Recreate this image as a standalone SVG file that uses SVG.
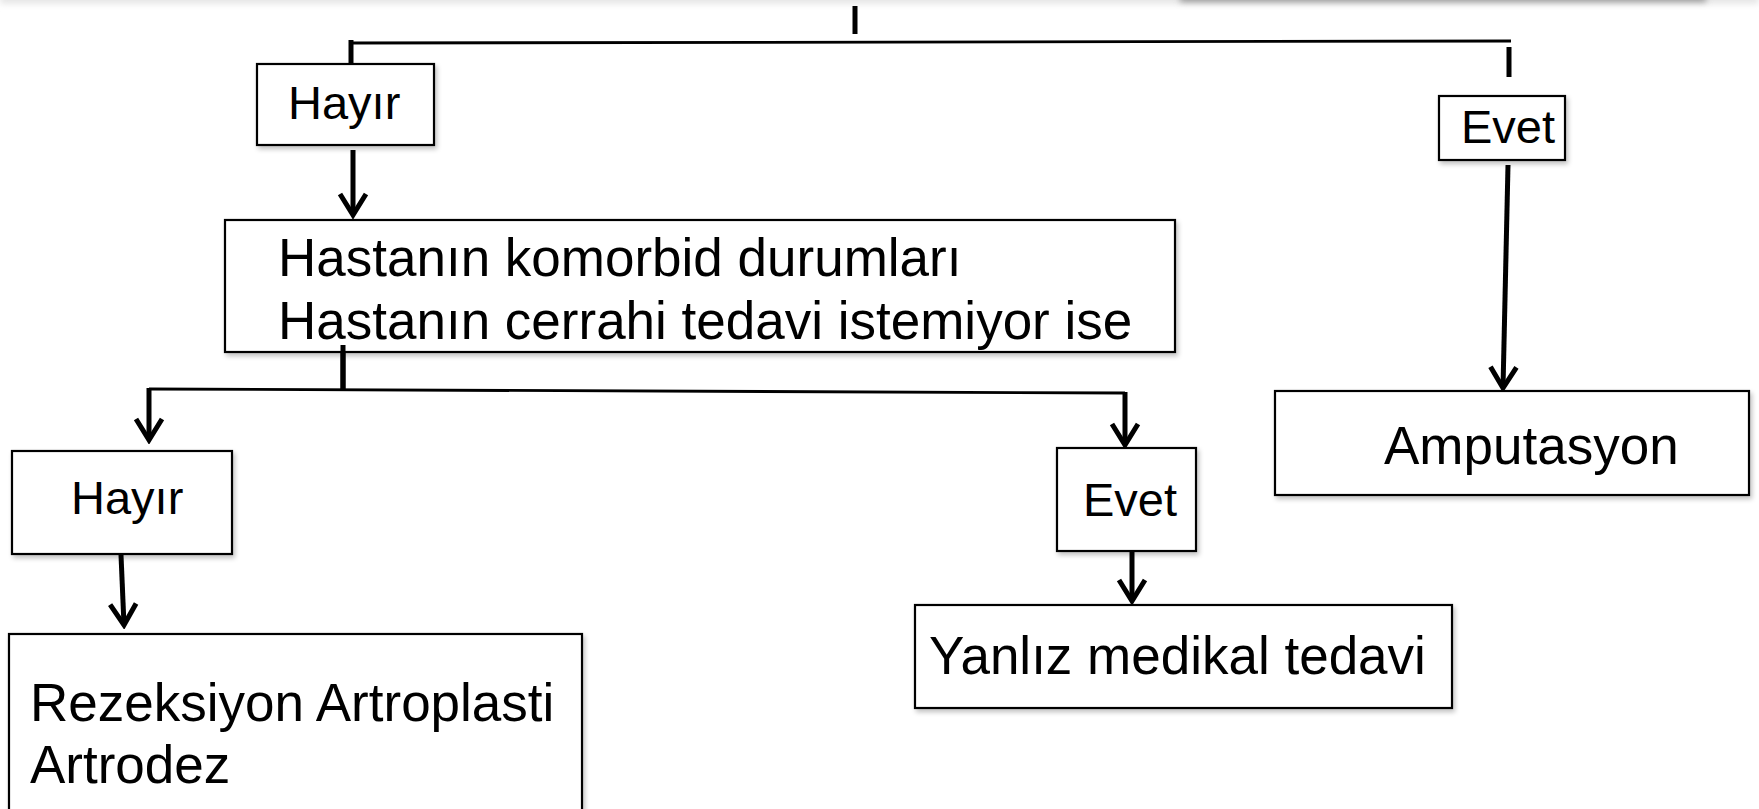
<svg xmlns="http://www.w3.org/2000/svg" width="1759" height="809" viewBox="0 0 1759 809">
<style>
.box{fill:#fff;stroke:#000;stroke-width:2.2;filter:url(#sh)}
.t{font-family:"Liberation Sans",Arial,sans-serif;fill:#000}
.s{font-size:47px}
.b{font-size:53px}
.c{fill:none;stroke:#000;stroke-width:5;stroke-linecap:butt}
.h{fill:none;stroke:#000;stroke-width:2.8}
.a{fill:none;stroke:#000;stroke-width:5;marker-end:url(#arr)}
</style>
<defs>
<filter id="sh" x="-10%" y="-10%" width="130%" height="140%">
<feGaussianBlur in="SourceAlpha" stdDeviation="2.5"/>
<feOffset dx="2" dy="3" result="o"/>
<feComponentTransfer><feFuncA type="linear" slope="0.25"/></feComponentTransfer>
<feMerge><feMergeNode/><feMergeNode in="SourceGraphic"/></feMerge>
</filter>
<filter id="blur" x="-5%" y="-200%" width="110%" height="500%"><feGaussianBlur stdDeviation="3"/></filter>
<marker id="arr" viewBox="-28 -17 32 34" markerWidth="32" markerHeight="34" refX="0" refY="0" orient="auto" markerUnits="userSpaceOnUse">
<path d="M-21,-13 L0,0 L-21,13" fill="none" stroke="#000" stroke-width="5" stroke-linejoin="miter"/>
</marker>
</defs>
<rect width="1759" height="809" fill="#fff"/>
<rect x="0" y="-10" width="1759" height="14" fill="#e6e6e6" filter="url(#blur)"/>
<rect x="1180" y="-10" width="526" height="12" fill="#9a9a9a" filter="url(#blur)"/>

<g id="connectors">
<line class="c" x1="855" y1="6" x2="855" y2="34"/>
<line class="h" x1="351" y1="43" x2="1511" y2="41"/>
<line class="c" x1="351" y1="40" x2="351" y2="70"/>
<line class="c" x1="1509" y1="47" x2="1509" y2="77"/>
<line class="a" x1="353" y1="150" x2="353" y2="215"/>
<line class="a" x1="1508" y1="165" x2="1503" y2="388"/>
<line class="c" x1="343" y1="345" x2="343" y2="390"/>
<line class="h" x1="149" y1="389" x2="1125" y2="393"/>
<line class="a" x1="149" y1="388" x2="149" y2="440"/>
<line class="a" x1="1125" y1="392" x2="1125" y2="445"/>
<line class="a" x1="121" y1="555" x2="124" y2="625"/>
<line class="a" x1="1132" y1="551" x2="1132" y2="601"/>
</g>

<g id="hayir1">
<rect class="box" x="257" y="64" width="177" height="81"/>
<text class="t s" x="288" y="119">Hayır</text>
</g>
<g id="evet1">
<rect class="box" x="1439" y="96" width="126" height="64"/>
<text class="t s" x="1461" y="143">Evet</text>
</g>
<g id="main">
<rect class="box" x="225" y="220" width="950" height="132"/>
<text class="t b" x="278" y="276">Hastanın komorbid durumları</text>
<text class="t b" x="278" y="339">Hastanın cerrahi tedavi istemiyor ise</text>
</g>
<g id="amputasyon">
<rect class="box" x="1275" y="391" width="474" height="104"/>
<text class="t b" x="1384" y="464">Amputasyon</text>
</g>
<g id="hayir2">
<rect class="box" x="12" y="451" width="220" height="103"/>
<text class="t s" x="71" y="514">Hayır</text>
</g>
<g id="evet2">
<rect class="box" x="1057" y="448" width="139" height="103"/>
<text class="t s" x="1083" y="516">Evet</text>
</g>
<g id="yanliz">
<rect class="box" x="915" y="605" width="537" height="103"/>
<text class="t b" x="929" y="674">Yanlız medikal tedavi</text>
</g>
<g id="rezeksiyon">
<rect class="box" x="9" y="634" width="573" height="200"/>
<text class="t b" x="30" y="721">Rezeksiyon Artroplasti</text>
<text class="t b" x="30" y="783">Artrodez</text>
</g>
<line class="c" x1="343" y1="345" x2="343" y2="390"/>
</svg>
